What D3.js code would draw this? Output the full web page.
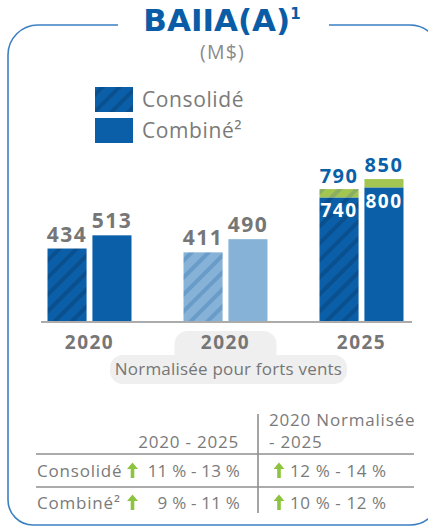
<!DOCTYPE html>
<html><head><meta charset="utf-8">
<script src="https://cdn.jsdelivr.net/npm/d3@7"></script>
<style>
html,body{margin:0;padding:0;background:#fff;}
svg{display:block;}
text{font-family:"Open Sans","Lato",sans-serif;}
</style></head>
<body>
<svg id="c" width="428" height="529"></svg>
<script>
// ---- data ----
const groups = ["g2020", "g2020n", "g2025"];
const categoryLabels = ["2020", "2020", "2025"];
const consolide = [434, 411, 740];
const combine = [513, 490, 800];
const consolideTop = [null, null, 790];
const combineTop = [null, null, 850];
const legendLabels = ["Consolidé", "Combiné²"];
const noteLabel = "Normalisée pour forts vents";
const tableHeaders = ["2020 - 2025", "2020 Normalisée", "- 2025"];
const tableRows = ["Consolidé", "Combiné²"];
const tableCol1 = ["11 % - 13 %", "9 % - 11 %"];
const tableCol2 = ["12 % - 14 %", "10 % - 12 %"];

const BLUE = "#0a5fa8", BLUE_S = "#0a4f8e";
const LBLUE = "#86b2d7", LBLUE_S = "#6a9cca";
const GREEN = "#a3c652", GREEN_S = "#8aae62";
const GRAY = "#767676", ARROW = "#8cc43f";

const svg = d3.select("#c");
const defs = svg.append("defs");
function hatch(id, base, stripe) {
  const p = defs.append("pattern").attr("id", id).attr("patternUnits", "userSpaceOnUse")
    .attr("width", 12).attr("height", 12).attr("patternTransform", "rotate(45)");
  p.append("rect").attr("width", 12).attr("height", 12).attr("fill", base);
  p.append("rect").attr("width", 4).attr("height", 12).attr("fill", stripe);
}
hatch("hB", BLUE, BLUE_S);
hatch("hL", LBLUE, LBLUE_S);
hatch("hG", GREEN, GREEN_S);

// ---- frame ----
const fr = d3.path();
fr.moveTo(118, 25); fr.lineTo(38, 25); fr.arcTo(8, 25, 8, 55, 30);
fr.lineTo(8, 500); fr.arcTo(8, 525, 33, 525, 25);
fr.lineTo(410, 525); fr.arcTo(440, 525, 440, 495, 30);
fr.lineTo(440, 55); fr.arcTo(440, 25, 410, 25, 30); fr.lineTo(329, 25);
svg.append("path").attr("d", fr.toString()).attr("fill", "none")
  .attr("stroke", "#3d80c2").attr("stroke-width", 1.6);

// ---- title ----
const t = svg.append("text").attr("x", 222).attr("y", 31).attr("text-anchor", "middle")
  .attr("fill", "#0b5ca6").attr("font-weight", 700).attr("font-size", 31)
  .style("font-family", "'DejaVu Sans', sans-serif");
t.append("tspan").text("BAIIA(A)");
t.append("tspan").attr("font-size", 15).attr("dy", -12).text("1");
svg.append("text").attr("x", 222.5).attr("y", 59).attr("text-anchor", "middle")
  .attr("fill", "#8a8a8a").attr("font-size", 19.5).attr("letter-spacing", 1.2).text("(M$)");

// ---- legend ----
const lg = svg.append("g");
lg.selectAll("rect").data(legendLabels).join("rect")
  .attr("x", 95).attr("y", (d, i) => 87 + i * 31).attr("width", 38).attr("height", 25)
  .attr("fill", (d, i) => i === 0 ? "url(#hB)" : BLUE);
lg.selectAll("text").data(legendLabels).join("text")
  .attr("x", 142).attr("y", (d, i) => 107 + i * 31).attr("letter-spacing", 0.6)
  .attr("fill", "#7a7a7a").attr("font-size", 21).text(d => d);

// ---- scales ----
const x = d3.scalePoint().domain(groups).range([89.5, 361.5]);
const xi = d3.scaleBand().domain(["cons", "comb"]).range([-42, 42]).paddingInner(0.13);
const y = d3.scaleLinear().domain([0, 1000]).range([321, 154]);
const bw = xi.bandwidth();

const rows = groups.map((g, i) => ({ g, i }));
const fillCons = i => i === 1 ? "url(#hL)" : "url(#hB)";
const fillComb = i => i === 1 ? LBLUE : BLUE;

const bars = svg.append("g");
// consolidé
bars.selectAll(".cons").data(rows).join("rect").attr("class", "cons")
  .attr("x", d => x(d.g) + xi("cons")).attr("width", bw)
  .attr("y", d => y(consolide[d.i])).attr("height", d => y(0) - y(consolide[d.i]))
  .attr("fill", d => fillCons(d.i));
bars.selectAll(".consT").data(rows.filter(d => consolideTop[d.i] != null)).join("rect").attr("class", "consT")
  .attr("x", d => x(d.g) + xi("cons")).attr("width", bw)
  .attr("y", d => y(consolideTop[d.i])).attr("height", d => y(consolide[d.i]) - y(consolideTop[d.i]))
  .attr("fill", "url(#hG)");
// combiné
bars.selectAll(".comb").data(rows).join("rect").attr("class", "comb")
  .attr("x", d => x(d.g) + xi("comb")).attr("width", bw)
  .attr("y", d => y(combine[d.i])).attr("height", d => y(0) - y(combine[d.i]))
  .attr("fill", d => fillComb(d.i));
bars.selectAll(".combT").data(rows.filter(d => combineTop[d.i] != null)).join("rect").attr("class", "combT")
  .attr("x", d => x(d.g) + xi("comb")).attr("width", bw)
  .attr("y", d => y(combineTop[d.i])).attr("height", d => y(combine[d.i]) - y(combineTop[d.i]))
  .attr("fill", GREEN);

// baseline
svg.append("line").attr("x1", 41).attr("x2", 412).attr("y1", y(0) + 1).attr("y2", y(0) + 1)
  .attr("stroke", "#8f8f8f").attr("stroke-width", 1.6);

// ---- value labels ----
const lab = svg.append("g").attr("font-weight", 700).attr("text-anchor", "middle").attr("letter-spacing", 1.5);
rows.forEach(d => {
  const cx1 = x(d.g) + xi("cons") + bw / 2, cx2 = x(d.g) + xi("comb") + bw / 2;
  if (consolideTop[d.i] == null) {
    lab.append("text").attr("x", cx1).attr("y", y(consolide[d.i]) - 7).attr("fill", GRAY)
      .attr("font-size", 21).text(consolide[d.i]);
    lab.append("text").attr("x", cx2).attr("y", y(combine[d.i]) - 7).attr("fill", GRAY)
      .attr("font-size", 21).text(combine[d.i]);
  } else {
    lab.append("text").attr("x", cx1).attr("y", y(consolideTop[d.i]) - 6).attr("fill", BLUE)
      .attr("font-size", 20).text(consolideTop[d.i]);
    lab.append("text").attr("x", cx2).attr("y", y(combineTop[d.i]) - 7).attr("fill", BLUE)
      .attr("font-size", 20).text(combineTop[d.i]);
    lab.append("text").attr("x", cx1).attr("y", y(consolide[d.i]) + 20).attr("fill", "#fff")
      .attr("font-size", 19).text(consolide[d.i]);
    lab.append("text").attr("x", cx2).attr("y", y(combine[d.i]) + 21).attr("fill", "#fff")
      .attr("font-size", 19).text(combine[d.i]);
  }
});

// ---- category labels with bubble ----
const bub = svg.append("g").attr("fill", "#efefef");
bub.append("rect").attr("x", x("g2020n") - 51).attr("y", 331).attr("width", 102).attr("height", 40).attr("rx", 13);
bub.append("rect").attr("x", 110).attr("y", 355).attr("width", 237).attr("height", 29).attr("rx", 13);
svg.append("g").selectAll("text").data(rows).join("text")
  .attr("x", d => x(d.g)).attr("y", 349).attr("text-anchor", "middle")
  .attr("fill", GRAY).attr("font-weight", 700).attr("font-size", 19).attr("letter-spacing", 1.5)
  .text(d => categoryLabels[d.i]);
svg.append("text").attr("x", 228.5).attr("y", 375).attr("text-anchor", "middle")
  .attr("fill", GRAY).attr("font-size", 17).attr("letter-spacing", 0.2).text(noteLabel);

// ---- table ----
const tb = svg.append("g").attr("fill", "#7a7a7a").attr("font-size", 17).attr("letter-spacing", 0.8);
tb.append("text").attr("x", 239).attr("y", 448).attr("text-anchor", "end").text(tableHeaders[0]);
tb.append("text").attr("x", 269).attr("y", 426).text(tableHeaders[1]);
tb.append("text").attr("x", 269).attr("y", 448).text(tableHeaders[2]);
const ln = svg.append("g").attr("stroke", "#8f8f8f").attr("stroke-width", 1.6);
[454, 487].forEach(yy => ln.append("line").attr("x1", 36).attr("x2", 414).attr("y1", yy).attr("y2", yy));
ln.append("line").attr("x1", 258).attr("x2", 258).attr("y1", 414).attr("y2", 513);

function arrow(cx, base) {
  const p = d3.path();
  p.moveTo(cx - 1.8, base); p.lineTo(cx + 1.8, base); p.lineTo(cx + 1.8, base - 9);
  p.lineTo(cx + 5.5, base - 9); p.lineTo(cx, base - 15.5); p.lineTo(cx - 5.5, base - 9);
  p.lineTo(cx - 1.8, base - 9); p.closePath();
  svg.append("path").attr("d", p.toString()).attr("fill", ARROW);
}
tableRows.forEach((r, i) => {
  const yy = 477 + i * 32;
  tb.append("text").attr("x", 37).attr("y", yy).text(r);
  tb.append("text").attr("x", 240).attr("y", yy).attr("text-anchor", "end")
    .attr("letter-spacing", 0.2).text(tableCol1[i]);
  tb.append("text").attr("x", 290).attr("y", yy).attr("letter-spacing", 0.6).text(tableCol2[i]);
  arrow(132.5, yy + 1);
  arrow(279, yy + 1);
});
</script>
</body></html>
